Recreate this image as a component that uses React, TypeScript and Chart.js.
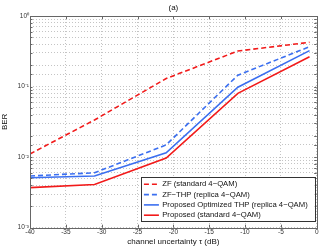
import React, { useEffect, useRef } from "react";
import { Chart, registerables } from "chart.js";

Chart.register(...registerables);

const xValues = [-40, -31, -21, -11, -1];
const zfStd = [0.0111, 0.0336, 0.13, 0.319, 0.424];
const zfThpReplica = [0.0054, 0.006, 0.0149, 0.145, 0.367];
const proposedThpReplica = [0.0051, 0.0054, 0.0115, 0.098, 0.323];
const proposedStd = [0.0037, 0.0041, 0.0097, 0.08, 0.265];

const seriesLabels = [
  "ZF (standard 4\u2212QAM)",
  "ZF\u2212THP (replica 4\u2212QAM)",
  "Proposed Optimized THP (replica 4\u2212QAM)",
  "Proposed (standard 4\u2212QAM)",
];
const titleText = "(a)";
const xTitle = "channel uncertainty \u03c4 (dB)";
const yTitle = "BER";

const RED = "#f21a1a";
const BLUE = "#3b6ff0";
const FONT = "'Liberation Sans', Arial, Helvetica, sans-serif";
const AXIS = "#666666";

const supMap: Record<string, string> = {
  "0": "\u2070", "1": "\u00b9", "2": "\u00b2", "3": "\u00b3", "-": "\u207b",
};
const sup = (n: number) => String(n).split("").map((c) => supMap[c] || c).join("");

const boxPlugin = {
  id: "matlabBox",
  afterDatasetsDraw(chart: any) {
    const { ctx, chartArea: a, scales } = chart;
    ctx.save();
    ctx.strokeStyle = AXIS;
    ctx.lineWidth = 1;
    ctx.setLineDash([]);
    ctx.beginPath();
    // inward ticks
    const xs = scales.x;
    xs.ticks.forEach((t: any) => {
      const px = Math.round(xs.getPixelForValue(t.value)) + 0.5;
      ctx.moveTo(px, a.bottom);
      ctx.lineTo(px, a.bottom - 3);
      ctx.moveTo(px, a.top);
      ctx.lineTo(px, a.top + 3);
    });
    const ys = scales.y;
    ys.ticks.forEach((t: any) => {
      const py = Math.round(ys.getPixelForValue(t.value)) + 0.5;
      ctx.moveTo(a.left, py);
      ctx.lineTo(a.left + 2.5, py);
      ctx.moveTo(a.right, py);
      ctx.lineTo(a.right - 2.5, py);
    });
    ctx.stroke();
    ctx.strokeRect(Math.round(a.left) + 0.5, Math.round(a.top) + 0.5, Math.round(a.right - a.left), Math.round(a.bottom - a.top));

    // legend
    const fontSize = 7.7;
    ctx.font = `${fontSize}px ${FONT}`;
    const ds = chart.data.datasets;
    let maxW = 0;
    ds.forEach((d: any) => { maxW = Math.max(maxW, ctx.measureText(d.label).width); });
    const rowH = 10.3;
    const w = 21.7 + maxW + 7;
    const h = 44;
    const right = a.right - 2;
    const bottom = a.bottom - 7;
    const left = right - w;
    const top = bottom - h;
    ctx.fillStyle = "#ffffff";
    ctx.fillRect(left, top, w, h);
    ctx.strokeStyle = "#333333";
    ctx.strokeRect(Math.round(left) + 0.5, Math.round(top) + 0.5, Math.round(w), Math.round(h));
    ds.forEach((d: any, i: number) => {
      const cy = top + 7.6 + i * rowH;
      ctx.strokeStyle = d.borderColor;
      ctx.lineWidth = d.borderWidth;
      ctx.setLineDash(d.borderDash || []);
      ctx.beginPath();
      ctx.moveTo(left + 3.4, cy);
      ctx.lineTo(left + 18.4, cy);
      ctx.stroke();
      ctx.setLineDash([]);
      ctx.fillStyle = "#111111";
      ctx.textBaseline = "middle";
      ctx.textAlign = "left";
      ctx.fillText(d.label, left + 21.7, cy);
    });
    ctx.restore();
  },
};

export default function App() {
  const ref = useRef<HTMLCanvasElement | null>(null);

  useEffect(() => {
    document.body.style.margin = "0";
    if (!ref.current) return;
    const mk = (vals: number[]) => xValues.map((x, i) => ({ x, y: vals[i] }));
    const chart = new Chart(ref.current, {
      type: "line",
      data: {
        datasets: [
          { label: seriesLabels[0], data: mk(zfStd), borderColor: RED, borderWidth: 1.6, borderDash: [5, 3], pointRadius: 0, tension: 0 },
          { label: seriesLabels[1], data: mk(zfThpReplica), borderColor: BLUE, borderWidth: 1.6, borderDash: [5, 3], pointRadius: 0, tension: 0 },
          { label: seriesLabels[2], data: mk(proposedThpReplica), borderColor: BLUE, borderWidth: 1.6, pointRadius: 0, tension: 0 },
          { label: seriesLabels[3], data: mk(proposedStd), borderColor: RED, borderWidth: 1.6, pointRadius: 0, tension: 0 },
        ] as any,
      },
      options: {
        responsive: false,
        animation: false,
        devicePixelRatio: 1,
        layout: { padding: { left: 0, right: 15.3, top: 0, bottom: 0 } },
        plugins: {
          legend: { display: false },
          tooltip: { enabled: false },
          title: {
            display: true,
            text: titleText,
            fullSize: false,
            color: "#111",
            font: { family: FONT, size: 8, weight: "normal" },
            padding: { top: 2.5, bottom: 3.9 },
          },
        },
        scales: {
          x: {
            type: "linear",
            min: -40,
            max: 0,
            ticks: {
              stepSize: 5,
              color: "#333",
              font: { family: FONT, size: 6.5 },
              padding: 1,
              maxRotation: 0,
              callback: (v: any) => String(v),
            },
            grid: { color: "#c4c4c4", lineWidth: 1, drawTicks: false, tickLength: 0 },
            border: { display: false, dash: [1, 2] },
            title: {
              display: true,
              text: xTitle,
              color: "#111",
              font: { family: FONT, size: 8 },
              padding: { top: 0, bottom: 2.5 },
            },
            afterFit: (s: any) => { s.height = 21.3; },
          },
          y: {
            type: "logarithmic",
            min: 0.001,
            max: 1,
            ticks: {
              autoSkip: false,
              color: "#333",
              font: { family: FONT, size: 6.5 },
              padding: 1,
              callback: (v: any) => {
                const l = Math.log10(Number(v));
                if (Math.abs(l - Math.round(l)) < 1e-6) return "10" + sup(Math.round(l));
                return "";
              },
            },
            grid: { color: "#c4c4c4", lineWidth: 1, drawTicks: false, tickLength: 0 },
            border: { display: false, dash: [1, 2] },
            title: {
              display: true,
              text: yTitle,
              color: "#111",
              font: { family: FONT, size: 8 },
              padding: { top: 0, bottom: 0 },
            },
            afterFit: (s: any) => { s.width = 30; },
          },
        },
      } as any,
      plugins: [boxPlugin],
    });
    return () => chart.destroy();
  }, []);

  return (
    <div style={{ width: 332, height: 249 }}>
      <canvas ref={ref} width={332} height={249} style={{ display: "block" }} />
    </div>
  );
}
